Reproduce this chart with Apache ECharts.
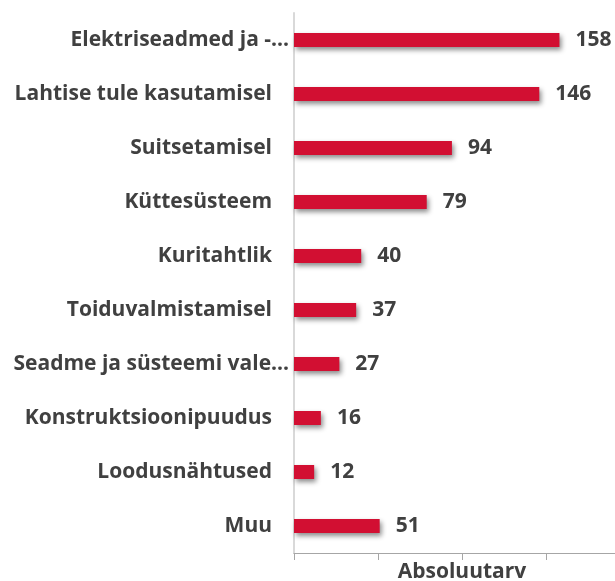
<!DOCTYPE html>
<html>
<head>
<meta charset="utf-8">
<script src="https://cdn.jsdelivr.net/npm/echarts@6/dist/echarts.min.js"></script>
<style>
  html, body { margin: 0; padding: 0; background: #fff; }
  #chart { width: 615px; height: 581px; }
</style>
</head>
<body>
<div id="chart"></div>
<script>
// Fire causes, absolute counts
const categories = [
  'Elektriseadmed ja -...',
  'Lahtise tule kasutamisel',
  'Suitsetamisel',
  'Küttesüsteem',
  'Kuritahtlik',
  'Toiduvalmistamisel',
  'Seadme ja süsteemi vale...',
  'Konstruktsioonipuudus',
  'Loodusnähtused',
  'Muu'
];
const values = [158, 146, 94, 79, 40, 37, 27, 16, 12, 51];
const axisTitle = 'Absoluutarv';

const FONT = '"Open Sans", "Noto Sans", sans-serif';
const TEXT = '#404040';

const chart = echarts.init(document.getElementById('chart'));
chart.setOption({
  animation: false,
  grid: { left: 294, top: 13, width: 336, height: 540, outerBoundsMode: 'none', containLabel: false },
  xAxis: {
    type: 'value',
    min: 0,
    max: 200,
    interval: 50,
    name: axisTitle,
    nameLocation: 'middle',
    nameGap: 9,
    nameTextStyle: { fontFamily: FONT, fontWeight: 'bold', fontSize: 21, color: TEXT, verticalAlign: 'top' },
    axisLine: { show: true, lineStyle: { color: '#a6a6a6', width: 1 } },
    axisTick: { show: true, length: 7, lineStyle: { color: '#a6a6a6' } },
    axisLabel: { show: false },
    splitLine: { show: false }
  },
  yAxis: {
    type: 'category',
    inverse: true,
    data: categories,
    axisLine: { show: true, lineStyle: { color: '#d9d9d9', width: 2 } },
    axisTick: { show: false },
    axisLabel: {
      margin: 5,
      formatter: function (v) {
        return v.endsWith('...') ? '{t|' + v + '}' : '{t|' + v + '}{s| }';
      },
      rich: {
        t: { fontFamily: FONT, fontWeight: 'bold', fontSize: 21, color: TEXT },
        s: { width: 17, fontSize: 21 }
      }
    }
  },
  series: [{
    type: 'bar',
    data: values,
    barWidth: 14,
    itemStyle: {
      color: '#d20f32',
      shadowColor: 'rgba(0,0,0,0.45)',
      shadowBlur: 5,
      shadowOffsetX: 2,
      shadowOffsetY: 3
    },
    label: {
      show: true,
      position: 'right',
      distance: 16,
      fontFamily: FONT,
      fontWeight: 'bold',
      fontSize: 21,
      color: TEXT
    }
  }]
});
</script>
</body>
</html>
